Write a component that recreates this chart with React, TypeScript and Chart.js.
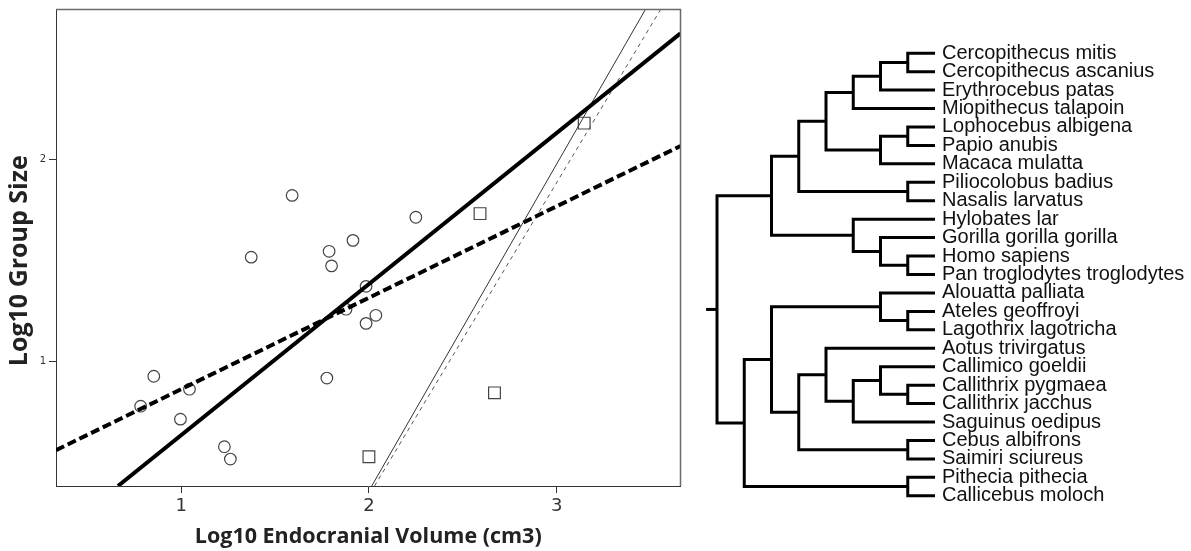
import React, { useEffect, useRef } from 'react';
import { Chart, registerables } from 'chart.js';

Chart.register(...registerables);

// ---------- Scatter plot data ----------
const X_TICKS = [1, 2, 3];
const Y_TICKS = [1, 2];
const X_MIN = 0.333;
const X_MAX = 3.66;
const Y_MIN = 0.387;
const Y_MAX = 2.74;

const CIRCLE_X = [1.591, 1.373, 1.788, 1.801, 1.915, 2.25, 1.985, 1.878, 2.037, 1.985, 1.776, 0.854, 0.784, 1.044, 0.996, 1.23, 1.262];
const CIRCLE_Y = [1.822, 1.517, 1.546, 1.474, 1.6, 1.714, 1.373, 1.26, 1.23, 1.19, 0.92, 0.929, 0.781, 0.865, 0.717, 0.581, 0.52];

const SQUARE_X = [2.592, 3.147, 2.669, 2.0];
const SQUARE_Y = [1.732, 2.179, 0.847, 0.531];

const FIT_ALL_X = [0.663, 3.66];
const FIT_ALL_Y = [0.387, 2.622];
const FIT_ALL_DASH_X = [0.333, 3.66];
const FIT_ALL_DASH_Y = [0.564, 2.066];
const FIT_SQ_X = [2.015, 3.473];
const FIT_SQ_Y = [0.387, 2.74];
const FIT_SQ_DASH_X = [2.03, 3.554];
const FIT_SQ_DASH_Y = [0.387, 2.74];

const X_TITLE = 'Log10 Endocranial Volume (cm3)';
const Y_TITLE = 'Log10 Group Size';

// ---------- Tree data ----------
const LEAF_NAMES = [
  'Cercopithecus mitis',
  'Cercopithecus ascanius',
  'Erythrocebus patas',
  'Miopithecus talapoin',
  'Lophocebus albigena',
  'Papio anubis',
  'Macaca mulatta',
  'Piliocolobus badius',
  'Nasalis larvatus',
  'Hylobates lar',
  'Gorilla gorilla gorilla',
  'Homo sapiens',
  'Pan troglodytes troglodytes',
  'Alouatta palliata',
  'Ateles geoffroyi',
  'Lagothrix lagotricha',
  'Aotus trivirgatus',
  'Callimico goeldii',
  'Callithrix pygmaea',
  'Callithrix jacchus',
  'Saguinus oedipus',
  'Cebus albifrons',
  'Saimiri sciureus',
  'Pithecia pithecia',
  'Callicebus moloch',
];
const LEAF_DEPTH = 8;
const ROOT_STUB = -0.4;
const NODE_DEPTHS = [7, 6, 5, 7, 6, 4, 7, 3, 7, 6, 5, 2, 7, 6, 7, 6, 5, 4, 7, 3, 2, 7, 1, 0];
const NODE_CHILDREN = [
  ['L0', 'L1'], ['N0', 'L2'], ['N1', 'L3'], ['L4', 'L5'], ['N3', 'L6'], ['N2', 'N4'],
  ['L7', 'L8'], ['N5', 'N6'], ['L11', 'L12'], ['L10', 'N8'], ['L9', 'N9'], ['N7', 'N10'],
  ['L14', 'L15'], ['L13', 'N12'], ['L18', 'L19'], ['L17', 'N14'], ['N15', 'L20'], ['L16', 'N16'],
  ['L21', 'L22'], ['N17', 'N18'], ['N13', 'N19'], ['L23', 'L24'], ['N20', 'N21'], ['N11', 'N22'],
];

function toPts(xs: number[], ys: number[]) {
  return xs.map((x, i) => ({ x, y: ys[i] }));
}

function nodePos(ref: string): { x: number; y: number } {
  const idx = parseInt(ref.slice(1), 10);
  if (ref[0] === 'L') return { x: LEAF_DEPTH, y: idx };
  const [a, b] = NODE_CHILDREN[idx];
  const pa = nodePos(a);
  const pb = nodePos(b);
  return { x: NODE_DEPTHS[idx], y: (pa.y + pb.y) / 2 };
}

const framePlugin = {
  id: 'frame',
  afterDraw(chart: any) {
    const { ctx, chartArea } = chart;
    ctx.save();
    ctx.strokeStyle = '#6a6a6a';
    ctx.lineWidth = 1.5;
    ctx.beginPath();
    ctx.moveTo(chartArea.left, chartArea.top);
    ctx.lineTo(chartArea.right, chartArea.top);
    ctx.lineTo(chartArea.right, chartArea.bottom);
    ctx.stroke();
    ctx.restore();
  },
};

function ScatterPanel() {
  const ref = useRef<HTMLCanvasElement>(null);
  useEffect(() => {
    const lineDs = (xs: number[], ys: number[], width: number, dash: number[], color: string) => ({
      type: 'scatter' as const,
      data: toPts(xs, ys),
      showLine: true,
      borderColor: color,
      borderWidth: width,
      borderDash: dash,
      pointRadius: 0,
      order: 0,
    });
    const chart = new Chart(ref.current!, {
      type: 'scatter',
      data: {
        datasets: [
          lineDs(FIT_ALL_X, FIT_ALL_Y, 4, [], '#000'),
          lineDs(FIT_ALL_DASH_X, FIT_ALL_DASH_Y, 4, [9, 4], '#000'),
          lineDs(FIT_SQ_X, FIT_SQ_Y, 1, [], '#333'),
          lineDs(FIT_SQ_DASH_X, FIT_SQ_DASH_Y, 1, [4, 4], '#555'),
          {
            data: toPts(CIRCLE_X, CIRCLE_Y),
            pointStyle: 'circle',
            pointRadius: 5.8,
            pointBorderColor: '#444',
            pointBorderWidth: 1.2,
            pointBackgroundColor: 'rgba(255,255,255,0)',
            order: 1,
          } as any,
          {
            data: toPts(SQUARE_X, SQUARE_Y),
            pointStyle: 'rect',
            pointRadius: 8.3,
            pointBorderColor: '#444',
            pointBorderWidth: 1.2,
            pointBackgroundColor: 'rgba(255,255,255,0)',
            order: 1,
          } as any,
        ],
      },
      options: {
        animation: false,
        responsive: false,
        events: [],
        layout: { padding: { top: 9, right: 7, left: 0, bottom: 0 } },
        plugins: { legend: { display: false }, tooltip: { enabled: false } },
        scales: {
          x: {
            type: 'linear',
            min: X_MIN,
            max: X_MAX,
            afterBuildTicks: (s: any) => { s.ticks = X_TICKS.map((v) => ({ value: v })); },
            afterFit: (s: any) => { s.height = 65; },
            grid: { drawOnChartArea: false, drawTicks: true, tickLength: 7, color: '#333' },
            border: { display: true, color: '#333', width: 1 },
            ticks: { font: { family: 'DejaVu Sans', size: 18 }, color: '#333', padding: 3, maxRotation: 0 },
            title: {
              display: true,
              text: X_TITLE,
              font: { family: 'Open Sans', size: 21.5, weight: 'bold' },
              color: '#222',
              padding: { top: 0, bottom: 1 },
            },
          },
          y: {
            type: 'linear',
            min: Y_MIN,
            max: Y_MAX,
            afterBuildTicks: (s: any) => { s.ticks = Y_TICKS.map((v) => ({ value: v })); },
            afterFit: (s: any) => { s.width = 56; },
            grid: { drawOnChartArea: false, drawTicks: true, tickLength: 7, color: '#333' },
            border: { display: true, color: '#333', width: 1 },
            ticks: { font: { family: 'DejaVu Sans', size: 10 }, color: '#333', padding: 3 },
            title: {
              display: true,
              text: Y_TITLE + '    ',
              font: { family: 'Open Sans', size: 25, weight: 'bold' },
              color: '#222',
              padding: { top: 5, bottom: 0 },
            },
          },
        },
      },
      plugins: [framePlugin],
    } as any);
    return () => chart.destroy();
  }, []);
  return (
    <canvas
      ref={ref}
      width={690}
      height={551}
      style={{ position: 'absolute', left: 0, top: 0, width: 690, height: 551 }}
    />
  );
}

function TreePanel() {
  const ref = useRef<HTMLCanvasElement>(null);
  useEffect(() => {
    const datasets: any[] = NODE_CHILDREN.map(([a, b], i) => {
      const pa = nodePos(a);
      const pb = nodePos(b);
      const d = NODE_DEPTHS[i];
      return {
        data: [
          { x: pa.x, y: pa.y },
          { x: d, y: pa.y },
          { x: d, y: pb.y },
          { x: pb.x, y: pb.y },
        ],
      };
    });
    const root = nodePos('N' + (NODE_CHILDREN.length - 1));
    datasets.push({ data: [{ x: ROOT_STUB, y: root.y }, { x: root.x, y: root.y }] });
    datasets.forEach((ds) => {
      ds.showLine = true;
      ds.borderColor = '#000';
      ds.borderWidth = 3;
      ds.pointRadius = 0;
      ds.borderJoinStyle = 'miter';
      ds.borderCapStyle = 'butt';
      ds.clip = false;
    });
    const chart = new Chart(ref.current!, {
      type: 'scatter',
      data: { datasets },
      options: {
        animation: false,
        responsive: false,
        events: [],
        layout: { padding: { top: 44, right: 0, left: 16, bottom: 46 } },
        plugins: { legend: { display: false }, tooltip: { enabled: false } },
        scales: {
          x: { type: 'linear', display: false, min: -0.404, max: LEAF_DEPTH },
          y: {
            type: 'linear',
            position: 'right',
            reverse: true,
            min: -0.5,
            max: LEAF_NAMES.length - 0.5,
            afterBuildTicks: (s: any) => { s.ticks = LEAF_NAMES.map((_, i) => ({ value: i })); },
            afterFit: (s: any) => { s.width = 256; },
            grid: { display: false, drawTicks: false },
            border: { display: false },
            ticks: {
              autoSkip: false,
              padding: 7,
              color: '#111',
              font: { family: 'Liberation Sans', size: 20, lineHeight: 1 },
              callback: (v: any) => LEAF_NAMES[v as number] ?? '',
            },
          },
        },
      },
    } as any);
    return () => chart.destroy();
  }, []);
  return (
    <canvas
      ref={ref}
      width={501}
      height={551}
      style={{ position: 'absolute', left: 690, top: 0, width: 501, height: 551 }}
    />
  );
}

export default function App() {
  return (
    <div style={{ position: 'absolute', left: 0, top: 0, width: 1191, height: 551, background: '#fff' }}>
      <ScatterPanel />
      <TreePanel />
    </div>
  );
}
